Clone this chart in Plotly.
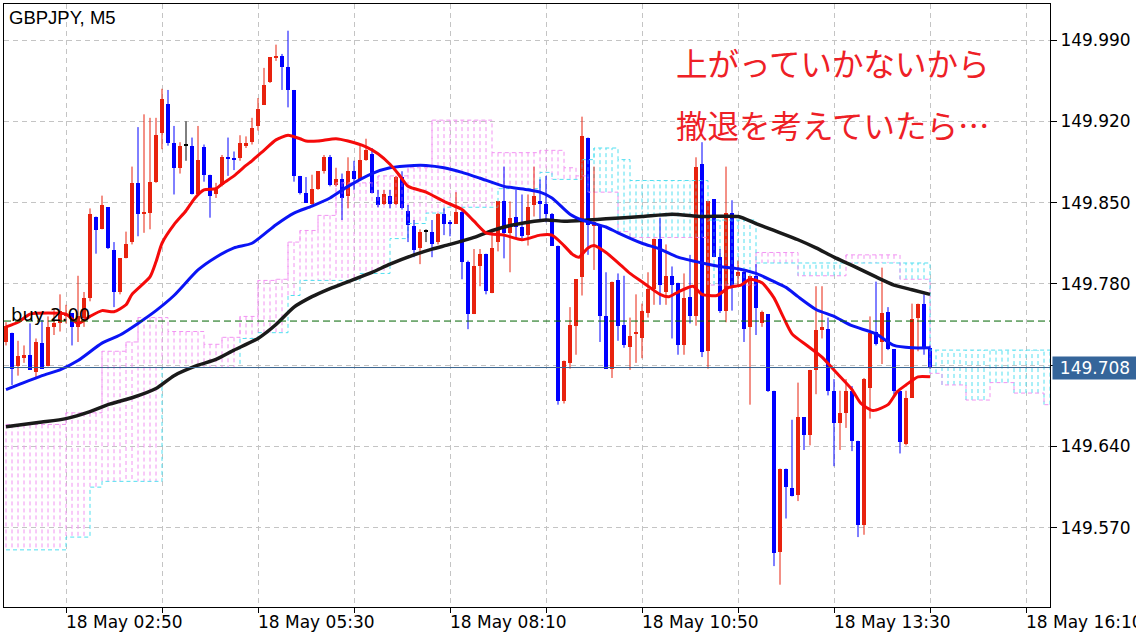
import plotly.graph_objects as go

# ---------------- data ----------------
symbol_title = "GBPJPY, M5"
note_line1 = "上がっていかないから"
note_line2 = "撤退を考えていたら…"
buy_label = "buy 2.00"

time_labels = ["18 May 02:50", "18 May 05:30", "18 May 08:10",
               "18 May 10:50", "18 May 13:30", "18 May 16:10"]
label_bars = [10, 42, 74, 106, 138, 170]
grid_bars = [10, 26, 42, 58, 74, 90, 106, 122, 138, 154, 170]
price_ticks = [149.990, 149.920, 149.850, 149.780, 149.710, 149.640, 149.570]

buy_level = 149.748
bid_level = 149.708

opens = [149.730, 149.738, 149.709, 149.716, 149.719, 149.704, 149.729, 149.709, 149.743, 149.746,
         149.752, 149.755, 149.743, 149.751, 149.768, 149.838, 149.827, 149.846, 149.809, 149.773,
         149.802, 149.816, 149.867, 149.841, 149.841, 149.868, 149.910, 149.935, 149.901, 149.880,
         149.899, 149.899, 149.857, 149.898, 149.874, 149.857, 149.865, 149.889, 149.888, 149.888,
         149.899, 149.902, 149.916, 149.934, 149.954, 149.975, 149.976, 149.967, 149.947, 149.873,
         149.858, 149.849, 149.862, 149.877, 149.889, 149.865, 149.870, 149.856, 149.877, 149.870,
         149.887, 149.892, 149.855, 149.849, 149.856, 149.849, 149.872, 149.843, 149.830, 149.811,
         149.825, 149.825, 149.816, 149.840, 149.833, 149.832, 149.842, 149.799, 149.754, 149.795,
         149.806, 149.772, 149.816, 149.851, 149.824, 149.838, 149.829, 149.822, 149.848, 149.851,
         149.849, 149.840, 149.813, 149.679, 149.712, 149.744, 149.786, 149.906, 149.830, 149.831,
         149.752, 149.707, 149.783, 149.745, 149.726, 149.737, 149.733, 149.755, 149.776, 149.819,
         149.773, 149.787, 149.781, 149.727, 149.769, 149.752, 149.883, 149.722, 149.853, 149.803,
         149.757, 149.841, 149.787, 149.790, 149.743, 149.787, 149.746, 149.754, 149.688, 149.549,
         149.621, 149.604, 149.598, 149.665, 149.650, 149.706, 149.740, 149.741, 149.688, 149.660,
         149.669, 149.688, 149.645, 149.572, 149.690, 149.739, 149.730, 149.756, 149.724, 149.688,
         149.642, 149.682, 149.751, 149.763, 149.725]
highs = [149.747, 149.738, 149.731, 149.727, 149.746, 149.733, 149.749, 149.752, 149.759, 149.771,
         149.762, 149.755, 149.787, 149.773, 149.845, 149.838, 149.856, 149.846, 149.816, 149.802,
         149.825, 149.881, 149.915, 149.926, 149.923, 149.923, 149.948, 149.947, 149.916, 149.902,
         149.920, 149.906, 149.916, 149.900, 149.874, 149.867, 149.891, 149.906, 149.894, 149.908,
         149.907, 149.923, 149.940, 149.966, 149.975, 149.986, 149.978, 149.998, 149.947, 149.873,
         149.872, 149.874, 149.877, 149.891, 149.891, 149.880, 149.875, 149.889, 149.886, 149.899,
         149.905, 149.897, 149.861, 149.861, 149.861, 149.873, 149.877, 149.848, 149.835, 149.827,
         149.827, 149.835, 149.841, 149.845, 149.835, 149.859, 149.843, 149.800, 149.810, 149.810,
         149.806, 149.827, 149.851, 149.881, 149.851, 149.861, 149.857, 149.857, 149.881, 149.870,
         149.873, 149.841, 149.813, 149.714, 149.760, 149.784, 149.924, 149.906, 149.881, 149.831,
         149.790, 149.782, 149.789, 149.787, 149.751, 149.771, 149.763, 149.790, 149.819, 149.837,
         149.814, 149.795, 149.781, 149.789, 149.805, 149.889, 149.902, 149.851, 149.853, 149.810,
         149.881, 149.852, 149.800, 149.792, 149.787, 149.797, 149.757, 149.754, 149.688, 149.621,
         149.621, 149.663, 149.695, 149.665, 149.706, 149.778, 149.778, 149.751, 149.698, 149.688,
         149.698, 149.692, 149.645, 149.699, 149.752, 149.782, 149.794, 149.760, 149.724, 149.688,
         149.688, 149.763, 149.763, 149.771, 149.727]
lows = [149.727, 149.693, 149.701, 149.712, 149.706, 149.699, 149.707, 149.709, 149.736, 149.739,
        149.746, 149.727, 149.730, 149.743, 149.765, 149.806, 149.827, 149.810, 149.760, 149.771,
        149.802, 149.814, 149.821, 149.824, 149.827, 149.867, 149.896, 149.899, 149.857, 149.875,
        149.886, 149.857, 149.857, 149.868, 149.837, 149.854, 149.864, 149.873, 149.878, 149.886,
        149.897, 149.900, 149.912, 149.934, 149.953, 149.972, 149.947, 149.932, 149.868, 149.857,
        149.850, 149.848, 149.861, 149.875, 149.864, 149.864, 149.835, 149.845, 149.861, 149.870,
        149.886, 149.858, 149.846, 149.848, 149.845, 149.848, 149.844, 149.816, 149.803, 149.797,
        149.816, 149.803, 149.814, 149.822, 149.821, 149.832, 149.784, 149.741, 149.754, 149.778,
        149.771, 149.772, 149.808, 149.802, 149.790, 149.819, 149.819, 149.813, 149.838, 149.835,
        149.833, 149.813, 149.676, 149.677, 149.707, 149.719, 149.770, 149.805, 149.792, 149.730,
        149.707, 149.699, 149.731, 149.725, 149.706, 149.712, 149.716, 149.751, 149.762, 149.762,
        149.762, 149.733, 149.719, 149.719, 149.746, 149.744, 149.717, 149.707, 149.803, 149.755,
        149.747, 149.757, 149.778, 149.730, 149.676, 149.736, 149.743, 149.687, 149.537, 149.521,
        149.578, 149.597, 149.593, 149.637, 149.641, 149.685, 149.733, 149.684, 149.623, 149.637,
        149.656, 149.636, 149.562, 149.564, 149.664, 149.727, 149.711, 149.723, 149.685, 149.634,
        149.641, 149.682, 149.722, 149.719, 149.707]
closes = [149.744, 149.707, 149.718, 149.719, 149.706, 149.730, 149.707, 149.743, 149.746, 149.757,
          149.754, 149.743, 149.752, 149.768, 149.840, 149.826, 149.848, 149.811, 149.773, 149.802,
          149.814, 149.867, 149.840, 149.842, 149.868, 149.908, 149.939, 149.901, 149.880, 149.899,
          149.899, 149.857, 149.887, 149.874, 149.856, 149.862, 149.889, 149.888, 149.887, 149.901,
          149.901, 149.914, 149.931, 149.951, 149.975, 149.976, 149.967, 149.947, 149.873, 149.858,
          149.850, 149.862, 149.877, 149.889, 149.865, 149.870, 149.854, 149.877, 149.870, 149.887,
          149.895, 149.858, 149.848, 149.857, 149.849, 149.872, 149.845, 149.831, 149.809, 149.825,
          149.825, 149.814, 149.840, 149.832, 149.832, 149.842, 149.799, 149.754, 149.795, 149.806,
          149.774, 149.811, 149.851, 149.824, 149.837, 149.829, 149.821, 149.846, 149.856, 149.849,
          149.840, 149.813, 149.679, 149.714, 149.745, 149.784, 149.907, 149.831, 149.833, 149.752,
          149.707, 149.782, 149.744, 149.727, 149.735, 149.738, 149.757, 149.776, 149.819, 149.779,
          149.787, 149.779, 149.727, 149.768, 149.752, 149.881, 149.721, 149.851, 149.803, 149.757,
          149.841, 149.778, 149.790, 149.741, 149.787, 149.759, 149.756, 149.688, 149.548, 149.621,
          149.605, 149.597, 149.665, 149.650, 149.706, 149.740, 149.743, 149.688, 149.660, 149.669,
          149.688, 149.645, 149.572, 149.698, 149.738, 149.728, 149.755, 149.724, 149.688, 149.644,
          149.682, 149.750, 149.763, 149.725, 149.708]

ma_fast_bar = [0, 2, 4, 7, 10, 12, 14, 16, 18, 20, 21, 24, 25, 26, 28, 30, 31.5, 33, 35, 36,
               38, 40, 41, 43, 45, 47, 49, 50, 52, 55, 57, 60, 62, 64, 65.5, 67, 70, 73, 76, 78,
               80, 83, 86, 89, 91, 93, 94.5, 95.5, 97, 98, 100, 102.5, 104, 106.5, 109, 110.5, 112,
               114.5, 116, 118.5, 120.5, 122.5, 124, 126, 128, 129.5, 131, 133.5, 136, 138.5, 141,
               142.5, 144.5, 147, 148.5, 150, 152, 154]
ma_fast_val = [149.743, 149.747, 149.754, 149.755, 149.754, 149.746, 149.752, 149.757, 149.756, 149.762,
               149.771, 149.786, 149.799, 149.815, 149.831, 149.843, 149.854, 149.861, 149.862, 149.866,
               149.873, 149.882, 149.886, 149.895, 149.904, 149.908, 149.905, 149.903, 149.903, 149.905,
               149.903, 149.898, 149.892, 149.883, 149.874, 149.864, 149.859, 149.851, 149.844, 149.834,
               149.824, 149.822, 149.818, 149.822, 149.822, 149.813, 149.805, 149.803, 149.811, 149.813,
               149.807, 149.796, 149.789, 149.780, 149.771, 149.769, 149.773, 149.778, 149.771, 149.770,
               149.777, 149.779, 149.784, 149.781, 149.768, 149.752, 149.737, 149.727, 149.717, 149.703,
               149.689, 149.677, 149.671, 149.676, 149.687, 149.693, 149.700, 149.700]
ma_mid_bar = [0, 2, 6, 9, 12, 16, 19, 22, 25, 28, 32, 35, 38, 41, 45, 48, 51, 54, 57, 61, 64, 68,
              70, 73, 76, 79, 83, 87, 89, 91, 94, 96, 98, 100, 102, 106, 109, 112, 116, 119, 122,
              125, 128, 130, 132, 135, 138, 141, 145, 148, 151, 154]
ma_mid_val = [149.689, 149.693, 149.701, 149.706, 149.714, 149.729, 149.736, 149.746, 149.757, 149.770,
              149.792, 149.803, 149.811, 149.815, 149.831, 149.841, 149.847, 149.854, 149.864, 149.875,
              149.880, 149.882, 149.882, 149.880, 149.876, 149.871, 149.864, 149.861, 149.859, 149.854,
              149.840, 149.835, 149.832, 149.829, 149.824, 149.815, 149.810, 149.803, 149.798, 149.795,
              149.793, 149.789, 149.782, 149.777, 149.769, 149.758, 149.752, 149.744, 149.737, 149.727,
              149.725, 149.725]
ma_slow_bar = [0, 6, 10, 14, 17, 21, 25, 28, 32, 35, 38, 42, 45, 48, 51, 54, 57, 61, 64, 68, 71, 74,
               78, 80, 83, 87, 90, 93, 97, 100, 106, 111, 116, 122, 125, 128, 132, 135, 138, 141,
               145, 148, 151, 154]
ma_slow_val = [149.657, 149.661, 149.664, 149.670, 149.676, 149.682, 149.690, 149.701, 149.710, 149.715,
               149.723, 149.733, 149.745, 149.760, 149.769, 149.776, 149.782, 149.790, 149.797, 149.805,
               149.810, 149.814, 149.820, 149.824, 149.829, 149.833, 149.835, 149.834, 149.835, 149.836,
               149.838, 149.840, 149.838, 149.838, 149.832, 149.826, 149.818, 149.811, 149.803, 149.796,
               149.786, 149.779, 149.775, 149.771]

# Ichimoku cloud spans (step values starting at the given bar)
span_pink_bar = [0, 10, 16, 20, 22, 27, 33, 36, 39, 42, 45, 47, 49, 52, 55, 62, 67, 71, 81, 89, 93,
                 95, 97, 102, 104, 117, 125, 132, 140, 149, 154, 156, 160, 164, 168, 173]
span_pink_val = [149.659, 149.669, 149.722, 149.730, 149.751, 149.739, 149.728, 149.734, 149.752,
                 149.783, 149.784, 149.816, 149.826, 149.839, 149.867, 149.873, 149.880, 149.921,
                 149.893, 149.895, 149.880, 149.873, 149.859, 149.825, 149.820, 149.779, 149.807,
                 149.787, 149.805, 149.784, 149.703, 149.693, 149.680, 149.695, 149.686, 149.676]
span_cyan_bar = [0, 10, 14, 16, 26, 39, 42, 47, 49, 59, 64, 67, 70, 73, 82, 89, 91, 96, 98, 102,
                 104, 117, 125, 154]
span_cyan_val = [149.551, 149.562, 149.605, 149.610, 149.708, 149.733, 149.738, 149.770, 149.783,
                 149.789, 149.819, 149.832, 149.841, 149.846, 149.862, 149.876, 149.870, 149.887,
                 149.897, 149.887, 149.869, 149.835, 149.798, 149.723]
cloud_last_bar = 180

# ---------------- styling ----------------
UP = "#e8220e"
DOWN = "#0000ff"
DOJI = "#000000"
PINK = "#f294f2"
CYAN = "#52dff0"
GRID = "#c4c4c4"
AXFONT = dict(family="DejaVu Sans", size=17, color="#000000")

fig = go.Figure()


def step_value(bars, vals, t):
    v = vals[0]
    for b, val in zip(bars, vals):
        if b <= t:
            v = val
        else:
            break
    return v


# cloud hatching, one dashed vertical per bar
hatch = {PINK: ([], []), CYAN: ([], [])}
for t in range(0, cloud_last_bar + 1):
    pv = step_value(span_pink_bar, span_pink_val, t)
    cv = step_value(span_cyan_bar, span_cyan_val, t)
    col = PINK if pv >= cv else CYAN
    hatch[col][0].extend([t, t, None])
    hatch[col][1].extend([pv, cv, None])
for col, (hx, hy) in hatch.items():
    fig.add_trace(go.Scatter(x=hx, y=hy, mode="lines", hoverinfo="skip",
                             line=dict(color=col, width=1, dash="4px,3px")))
fig.add_trace(go.Scatter(x=span_pink_bar + [cloud_last_bar], y=span_pink_val + [span_pink_val[-1]],
                         mode="lines", hoverinfo="skip",
                         line=dict(color=PINK, width=1, dash="4px,3px", shape="hv")))
fig.add_trace(go.Scatter(x=span_cyan_bar + [cloud_last_bar], y=span_cyan_val + [span_cyan_val[-1]],
                         mode="lines", hoverinfo="skip",
                         line=dict(color=CYAN, width=1, dash="4px,3px", shape="hv")))

# candles
n = len(opens)
groups = {UP: [], DOWN: [], DOJI: []}
for i in range(n):
    if closes[i] > opens[i]:
        groups[UP].append(i)
    elif closes[i] < opens[i]:
        groups[DOWN].append(i)
    else:
        groups[DOJI].append(i)

for col, idx in groups.items():
    wx, wy = [], []
    for i in idx:
        wx.extend([i, i, None])
        wy.extend([lows[i], highs[i], None])
    fig.add_trace(go.Scatter(x=wx, y=wy, mode="lines", hoverinfo="skip",
                             line=dict(color=col, width=1)))
for col, idx in groups.items():
    base = [min(opens[i], closes[i]) for i in idx]
    hgt = [max(abs(closes[i] - opens[i]), 0.0009) for i in idx]
    fig.add_trace(go.Bar(x=idx, y=hgt, base=base, width=0.68, marker=dict(color=col, line=dict(width=0)),
                         hoverinfo="skip"))

# moving averages
fig.add_trace(go.Scatter(x=ma_slow_bar, y=ma_slow_val, mode="lines", hoverinfo="skip",
                         line=dict(color="#1a1a1a", width=3.5, shape="spline", smoothing=0.6)))
fig.add_trace(go.Scatter(x=ma_mid_bar, y=ma_mid_val, mode="lines", hoverinfo="skip",
                         line=dict(color="#0a14f5", width=3, shape="spline", smoothing=0.6)))
fig.add_trace(go.Scatter(x=ma_fast_bar, y=ma_fast_val, mode="lines", hoverinfo="skip",
                         line=dict(color="#f50a0a", width=3, shape="spline", smoothing=0.6)))

# horizontal levels
fig.add_shape(type="line", xref="paper", x0=0, x1=1, yref="y", y0=buy_level, y1=buy_level,
              line=dict(color="#006400", width=1, dash="7px,4px"))
fig.add_shape(type="line", xref="paper", x0=0, x1=1, yref="y", y0=bid_level, y1=bid_level,
              line=dict(color="#3a6590", width=1))

tick_text = ["" if abs(v - bid_level) < 0.006 else f"{v:.3f}" for v in price_ticks]

annotations = [
    dict(text=symbol_title, xref="paper", yref="paper", x=0.003, y=0.9768, xanchor="left",
         yanchor="middle", showarrow=False, font=dict(family="Liberation Sans", size=18.5, color="#000")),
    dict(text=buy_label, xref="paper", yref="y", x=0.005, y=buy_level, xanchor="left",
         yanchor="bottom", yshift=-6, showarrow=False,
         font=dict(family="DejaVu Sans", size=18, color="#000")),
    dict(text=f"{bid_level:.3f}", xref="paper", yref="y", x=1, xshift=2, y=bid_level,
         xanchor="left", yanchor="middle", showarrow=False, width=84, height=22, align="center",
         borderpad=0, bgcolor="#35659a", font=dict(family="DejaVu Sans", size=17, color="#ffffff")),
    dict(text=note_line1, xref="paper", yref="paper", x=0.6405, y=0.9038, xanchor="left",
         yanchor="middle", showarrow=False,
         font=dict(family="Noto Sans CJK JP", size=31.5, color="#ee2026")),
    dict(text=note_line2, xref="paper", yref="paper", x=0.6405, y=0.801, xanchor="left",
         yanchor="middle", showarrow=False,
         font=dict(family="Noto Sans CJK JP", size=31.5, color="#ee2026")),
]
for b, lab in zip(label_bars, time_labels):
    annotations.append(dict(text=lab, x=b, xref="x", y=0, yref="paper", xanchor="left",
                            yanchor="top", yshift=-3, xshift=-2, showarrow=False, font=AXFONT))

fig.update_layout(
    width=1136, height=640,
    margin=dict(l=4, r=86, t=4, b=33),
    paper_bgcolor="#ffffff", plot_bgcolor="#ffffff",
    showlegend=False, barmode="overlay", bargap=0,
    annotations=annotations,
    xaxis=dict(range=[-0.333, 174], tickmode="array", tickvals=grid_bars,
               ticktext=[""] * len(grid_bars), ticks="outside", ticklen=5, tickcolor="#000",
               showgrid=True, gridcolor=GRID, griddash="5px,4px", gridwidth=1,
               zeroline=False, showline=True, linecolor="#000", linewidth=1, mirror=True),
    yaxis=dict(range=[149.5018, 150.021], side="right", tickmode="array", tickvals=price_ticks,
               ticktext=tick_text, ticks="outside", ticklen=6, tickcolor="#000",
               tickfont=AXFONT, showgrid=True, gridcolor=GRID, griddash="5px,4px", gridwidth=1,
               zeroline=False, showline=True, linecolor="#000", linewidth=1, mirror=True),
)

fig.write_html("out.html", config={"displayModeBar": False},
               post_script="document.body.style.margin='0';document.body.style.overflow='hidden';")
